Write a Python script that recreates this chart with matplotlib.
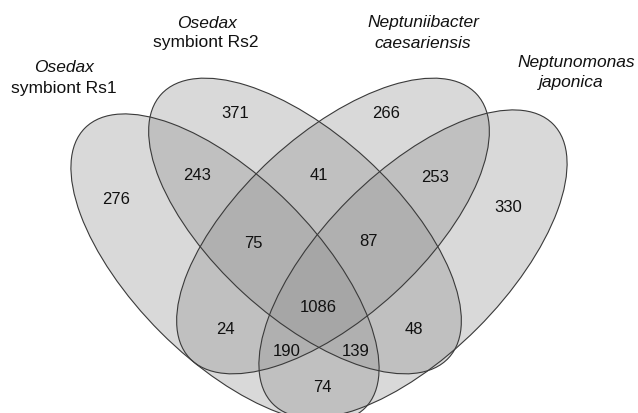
import matplotlib
matplotlib.use("Agg")
import matplotlib.pyplot as plt
from matplotlib.patches import Ellipse

# ---- data ----
set_line1 = ["Osedax", "Osedax", "Neptuniibacter", "Neptunomonas"]
set_line2 = ["symbiont Rs1", "symbiont Rs2", "caesariensis", "japonica"]
line2_italic = [False, False, True, True]
region_keys = ["A", "B", "C", "D", "AB", "BC", "CD", "ABC", "BCD", "ABCD",
               "AC", "BD", "ACD", "ABD", "AD"]
region_counts = [276, 371, 266, 330, 243, 41, 253, 75, 87, 1086, 24, 48, 190, 139, 74]

# ---- layout (pixel space of the 638x413 canvas) ----
W, H = 638, 413
ellipses = [  # cx, cy, semi-major, semi-minor, angle
    (225, 268, 198, 91, 45),
    (305, 226, 195, 91, 42.5),
    (333, 226, 195, 91, -42.5),
    (413, 264, 198, 91, -45),
]
label_pos = {
    "A": (116.5, 199), "B": (235, 113), "C": (386, 113), "D": (508, 207),
    "AB": (197, 175), "BC": (318.5, 176), "CD": (435.5, 177),
    "ABC": (253, 244), "BCD": (368, 242), "ABCD": (318.5, 307.5),
    "AC": (225, 330), "BD": (414, 330), "ACD": (286.5, 352),
    "ABD": (355.5, 351), "AD": (322, 387),
}
title_pos = [((64, 68), (64, 88)), ((207, 23), (206, 43)),
             ((423, 22), (423, 43)), ((576, 62), (571, 83))]

fig = plt.figure(figsize=(W / 100, H / 100), dpi=100)
ax = fig.add_axes([0, 0, 1, 1])
ax.set_xlim(0, W)
ax.set_ylim(H, 0)
ax.set_aspect("equal")
ax.axis("off")

for cx, cy, a, b, ang in ellipses:
    ax.add_patch(Ellipse((cx, cy), 2 * a, 2 * b, angle=ang,
                         facecolor="#969696", alpha=0.36, edgecolor="none"))
for cx, cy, a, b, ang in ellipses:
    ax.add_patch(Ellipse((cx, cy), 2 * a, 2 * b, angle=ang,
                         facecolor="none", edgecolor="#3a3a3a", linewidth=0.8))

font = "Liberation Sans"
for key, cnt in zip(region_keys, region_counts):
    x, y = label_pos[key]
    ax.text(x, y, str(cnt), ha="center", va="center", fontsize=12,
            family=font, color="#111111")

for i in range(4):
    p1, p2 = title_pos[i]
    ax.text(p1[0], p1[1], set_line1[i], ha="center", va="center",
            fontsize=12.5, style="italic", family=font, color="#111111")
    ax.text(p2[0], p2[1], set_line2[i], ha="center", va="center",
            fontsize=12.5, style="italic" if line2_italic[i] else "normal",
            family=font, color="#111111")

fig.savefig("out.png", dpi=100)
